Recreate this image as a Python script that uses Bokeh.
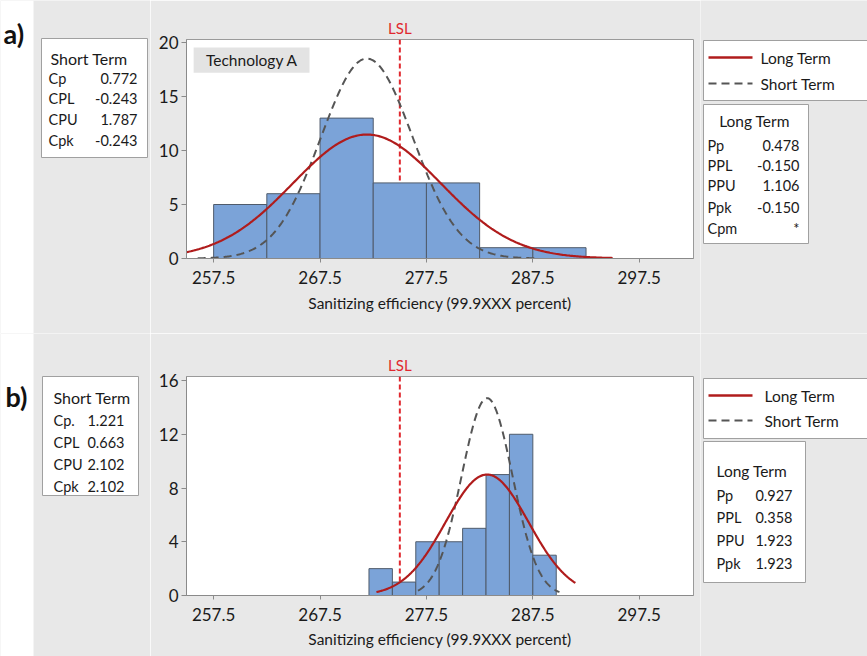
import numpy as np
from bokeh.plotting import figure
from bokeh.models import Range1d, FixedTicker, LinearAxis, Span, CustomJSTickFormatter
from bokeh.layouts import row, column
from bokeh.core.properties import value
from bokeh.embed import file_html
from bokeh.resources import INLINE

# ---------------- data ----------------
x_ticks = [257.5, 267.5, 277.5, 287.5, 297.5]
LSL = 275
n_obs = 40

a_edges = [257.5, 262.5, 267.5, 272.5, 277.5, 282.5, 287.5, 292.5]
a_counts = [5, 6, 13, 7, 7, 1, 1]
a_mean = 271.9
a_sigma_long = 6.95
a_sigma_short = 4.31
a_long_span = [254.95, 295.0]
a_short_span = [256.0, 288.0]
a_yticks = [0, 5, 10, 15, 20]

b_edges = [272.1, 274.3, 276.5, 278.7, 280.9, 283.1, 285.3, 287.5, 289.7]
b_counts = [2, 1, 4, 4, 5, 9, 12, 3]
b_mean = 283.2
b_sigma_long = 3.9
b_sigma_short = 2.39
b_long_span = [272.8, 291.5]
b_short_span = [276.7, 290.0]
b_yticks = [0, 4, 8, 12, 16]

a_short_names = ["Cp", "CPL", "CPU", "Cpk"]
a_short_vals = ["0.772", "-0.243", "1.787", "-0.243"]
a_long_names = ["Pp", "PPL", "PPU", "Ppk", "Cpm"]
a_long_vals = ["0.478", "-0.150", "1.106", "-0.150", "*"]
b_short_names = ["Cp.", "CPL", "CPU", "Cpk"]
b_short_vals = ["1.221", "0.663", "2.102", "2.102"]
b_long_names = ["Pp", "PPL", "PPU", "Ppk"]
b_long_vals = ["0.927", "0.358", "1.923", "1.923"]

# ---------------- style ----------------
GRAY = "#e8e8e8"
FONT = "Lato"
TXT = "#1a1a1a"
BAR_FILL = "#7ba3d8"
BAR_LINE = "#4f5b6b"
LONG_C = "#b01c1c"
SHORT_C = "#555555"
LSL_C = "#e0282e"
BOX_LINE = "#a0a0a0"


def fitted(mean, sigma, span, edges):
    width = edges[1] - edges[0]
    x = np.linspace(span[0], span[1], 300)
    y = n_obs * width / (sigma * np.sqrt(2 * np.pi)) * np.exp(-0.5 * ((x - mean) / sigma) ** 2)
    return x, y


def aux(w, h):
    f = figure(width=w, height=h, x_range=Range1d(0, w), y_range=Range1d(h, 0),
               output_backend="svg", toolbar_location=None, min_border=0,
               x_axis_location=None, y_axis_location=None,
               background_fill_color=GRAY, border_fill_color=GRAY, frame_align=False)
    f.grid.visible = False
    f.outline_line_color = None
    return f


def txt(f, x, y, t, size="14px", align="left", color=TXT, style="normal"):
    f.text(x=x, y=y, text=t, text_font=value(FONT), text_font_size=size,
           text_align=align, text_baseline="middle", text_color=color,
           text_font_style=style)


def main_fig(h, top_b, bot_b, edges, counts, yticks, ymax, mean, sl, ss, lspan, sspan,
             lab_standoff, axlab_standoff):
    p = figure(width=550, height=h, x_range=Range1d(254.95, 302.6), y_range=Range1d(0, ymax),
               output_backend="svg", toolbar_location=None,
               min_border_left=36, min_border_right=7, min_border_top=top_b, min_border_bottom=bot_b,
               background_fill_color="white", border_fill_color=GRAY, frame_align=False)
    p.outline_line_color = "#9a9a9a"
    p.grid.visible = False
    p.add_layout(Span(location=LSL, dimension="height", line_color=LSL_C, line_width=2,
                      line_dash="5 3", level="underlay"))
    p.quad(left=edges[:-1], right=edges[1:], top=counts, bottom=0,
           fill_color=BAR_FILL, line_color=BAR_LINE, line_width=1)
    xs, ys = fitted(mean, ss, sspan, edges)
    p.line(xs, ys, line_color=SHORT_C, line_width=2, line_dash="8 5")
    xl, yl = fitted(mean, sl, lspan, edges)
    p.line(xl, yl, line_color=LONG_C, line_width=2.2)

    p.xaxis.ticker = FixedTicker(ticks=x_ticks)
    p.yaxis.ticker = FixedTicker(ticks=yticks)
    for ax in p.axis:
        ax.axis_line_color = "#8a8a8a"
        ax.major_tick_line_color = "#8a8a8a"
        ax.minor_tick_line_color = None
        ax.major_tick_in = 0
        ax.major_tick_out = 5
        ax.major_label_text_font = FONT
        ax.major_label_text_font_size = "17px"
        ax.major_label_text_color = TXT
    p.yaxis.major_label_standoff = 3
    p.xaxis.major_tick_out = 4
    p.xaxis.major_label_standoff = lab_standoff
    p.xaxis.axis_label = "Sanitizing efficiency (99.9XXX percent)"
    p.xaxis.axis_label_text_font = FONT
    p.xaxis.axis_label_text_font_size = "15.5px"
    p.xaxis.axis_label_text_font_style = "normal"
    p.xaxis.axis_label_text_color = TXT
    p.xaxis.axis_label_standoff = axlab_standoff

    top_ax = LinearAxis(ticker=FixedTicker(ticks=[LSL]),
                        formatter=CustomJSTickFormatter(code="return 'LSL'"))
    top_ax.axis_line_color = None
    top_ax.major_tick_line_color = None
    top_ax.minor_tick_line_color = None
    top_ax.major_tick_out = 0
    top_ax.major_label_standoff = 3
    top_ax.major_label_text_font = FONT
    top_ax.major_label_text_font_size = "15px"
    top_ax.major_label_text_color = LSL_C
    p.add_layout(top_ax, "above")
    return p


# ---------------- panel a ----------------
H1, H2 = 333, 323
WL, WM, WR = 150, 550, 167

la = aux(WL, H1)
la.quad(left=[0], right=[33], top=[0], bottom=[H1], fill_color="white", line_color=None)
txt(la, [3], [33], ["a)"], size="27px", style="bold", color="#111111")
la.quad(left=[41], right=[147], top=[38], bottom=[157], fill_color="white", line_color=BOX_LINE)
txt(la, [50], [58], ["Short Term"], size="16px")
rows_y = [78, 98, 119, 140]
txt(la, [48] * 4, rows_y, a_short_names, size="14.5px")
txt(la, [137] * 4, rows_y, a_short_vals, size="14.5px", align="right")

ma = main_fig(H1, 39, 75, a_edges, a_counts, a_yticks, 20.28, a_mean, a_sigma_long, a_sigma_short,
              a_long_span, a_short_span, 8, 7)
ma.quad(left=[255.62], right=[266.51], top=[19.54], bottom=[17.2], fill_color="#e3e3e3", line_color=None)
ma.text(x=[261.1], y=[18.37], text=["Technology A"], text_font=value(FONT), text_font_size="15.5px",
        text_align="center", text_baseline="middle", text_color=TXT)

ra = aux(WR, H1)
ra.quad(left=[3], right=[180], top=[40], bottom=[100], fill_color="white", line_color=BOX_LINE)
ra.line(x=[8, 52], y=[57, 57], line_color=LONG_C, line_width=2.5)
ra.line(x=[8, 52], y=[83, 83], line_color=SHORT_C, line_width=2, line_dash="8 5")
txt(ra, [60, 60], [57, 83], ["Long Term", "Short Term"], size="15.5px")
ra.quad(left=[3], right=[108], top=[104], bottom=[243], fill_color="white", line_color=BOX_LINE)
txt(ra, [54], [120], ["Long Term"], size="15.5px", align="center")
ly = [145, 165, 185, 207, 228]
txt(ra, [7] * 5, ly, a_long_names, size="14.5px")
txt(ra, [99] * 5, ly, a_long_vals, size="14.5px", align="right")

# ---------------- panel b ----------------
lb = aux(WL, H2)
lb.quad(left=[0], right=[33], top=[0], bottom=[H2], fill_color="white", line_color=None)
txt(lb, [5], [63], ["b)"], size="27px", style="bold", color="#111111")
lb.quad(left=[42], right=[138], top=[43], bottom=[162], fill_color="white", line_color=BOX_LINE)
txt(lb, [53], [64], ["Short Term"], size="16px")
rows_yb = [87, 109, 131, 153]
txt(lb, [53] * 4, rows_yb, b_short_names, size="14.5px")
txt(lb, [124] * 4, rows_yb, b_short_vals, size="14.5px", align="right")

mb = main_fig(H2, 43, 61, b_edges, b_counts, b_yticks, 16.3, b_mean, b_sigma_long, b_sigma_short,
              b_long_span, b_short_span, 8, 6)

rb = aux(WR, H2)
rb.quad(left=[3], right=[180], top=[45], bottom=[105], fill_color="white", line_color=BOX_LINE)
rb.line(x=[8, 52], y=[62, 62], line_color=LONG_C, line_width=2.5)
rb.line(x=[8, 52], y=[87, 87], line_color=SHORT_C, line_width=2, line_dash="8 5")
txt(rb, [64, 64], [62, 87], ["Long Term", "Short Term"], size="15.5px")
rb.quad(left=[3], right=[105], top=[108], bottom=[249], fill_color="white", line_color=BOX_LINE)
txt(rb, [16], [137], ["Long Term"], size="15.5px")
lyb = [162, 184, 207, 230]
txt(rb, [16] * 4, lyb, b_long_names, size="14.5px")
txt(rb, [92] * 4, lyb, b_long_vals, size="14.5px", align="right")

layout = column(row(la, ma, ra), row(lb, mb, rb))
open("out.html", "w").write(file_html(layout, INLINE))
